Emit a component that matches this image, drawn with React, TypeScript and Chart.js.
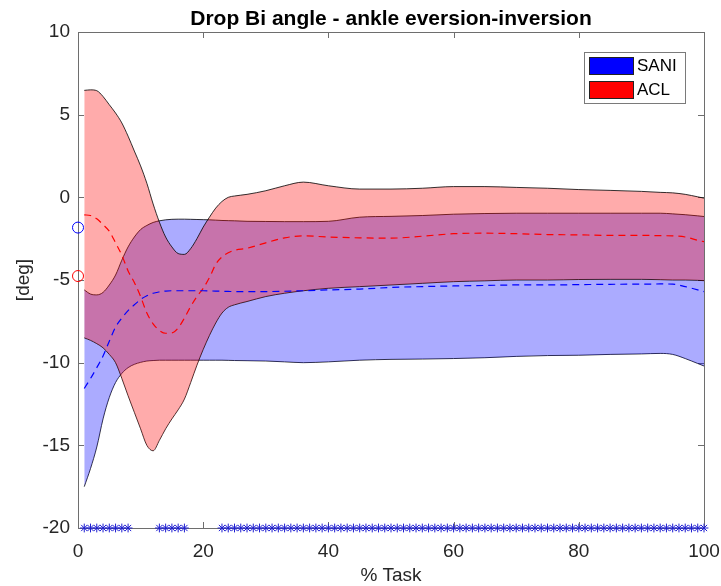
import React, { useEffect, useRef } from "react";
import { Chart, registerables } from "chart.js";

Chart.register(...registerables);

// ---- data ----
const TITLE = "Drop Bi angle - ankle eversion-inversion";
const X_LABEL = "% Task";
const Y_LABEL = "[deg]";
const LEGEND_LABELS = ["SANI", "ACL"];

const X_PTS = [1, 2, 3, 4, 5, 6, 7, 8, 9, 10, 11, 12, 13, 14, 15, 16, 17, 18, 19, 20, 21, 22, 23, 24, 25, 27, 30, 33, 36, 40, 45, 50, 55, 60, 65, 70, 75, 80, 85, 90, 93, 95, 97, 99, 100];

const ACL_HI = [6.47, 6.5, 6.45, 6.1, 5.6, 5.1, 4.5, 3.7, 2.8, 1.9, 0.85, -0.4, -1.5, -2.4, -3.0, -3.4, -3.45, -3.1, -2.5, -1.8, -1.2, -0.65, -0.25, 0.0, 0.08, 0.18, 0.4, 0.7, 0.92, 0.7, 0.5, 0.5, 0.55, 0.65, 0.65, 0.6, 0.55, 0.47, 0.42, 0.36, 0.3, 0.27, 0.18, 0.03, -0.05];
const ACL_LO = [-8.5, -8.65, -8.85, -9.1, -9.5, -10.0, -10.95, -12.0, -13.0, -14.0, -15.0, -15.33, -14.7, -14.0, -13.4, -12.85, -12.2, -11.2, -10.15, -9.2, -8.35, -7.6, -7.0, -6.65, -6.5, -6.3, -6.0, -5.8, -5.65, -5.5, -5.4, -5.3, -5.2, -5.1, -5.05, -5.0, -5.0, -4.97, -4.96, -4.96, -4.98, -5.0, -5.0, -5.02, -5.04];
const ACL_MEAN = [-1.06, -1.1, -1.3, -1.65, -2.05, -2.75, -3.5, -4.45, -5.15, -6.0, -7.0, -7.65, -8.05, -8.22, -8.2, -7.9, -7.3, -6.6, -6.0, -5.5, -4.85, -4.05, -3.6, -3.35, -3.2, -3.08, -2.75, -2.45, -2.33, -2.4, -2.45, -2.47, -2.35, -2.2, -2.17, -2.2, -2.25, -2.27, -2.3, -2.3, -2.32, -2.33, -2.4, -2.6, -2.68];

const SANI_HI = [-5.6, -5.85, -5.9, -5.75, -5.3, -4.7, -3.8, -3.0, -2.4, -1.95, -1.7, -1.52, -1.42, -1.36, -1.33, -1.32, -1.32, -1.33, -1.34, -1.35, -1.36, -1.38, -1.4, -1.41, -1.42, -1.45, -1.46, -1.47, -1.47, -1.45, -1.2, -1.15, -1.1, -1.02, -0.98, -0.96, -0.96, -0.96, -0.96, -0.96, -0.96, -1.0, -1.05, -1.12, -1.16];
const SANI_LO = [-17.5, -16.4, -15.1, -13.4, -12.1, -11.2, -10.65, -10.3, -10.1, -9.98, -9.9, -9.87, -9.85, -9.85, -9.85, -9.85, -9.85, -9.85, -9.85, -9.85, -9.85, -9.85, -9.85, -9.86, -9.87, -9.88, -9.9, -9.95, -10.0, -9.95, -9.85, -9.8, -9.78, -9.75, -9.7, -9.62, -9.57, -9.55, -9.5, -9.47, -9.44, -9.5, -9.75, -10.05, -10.2];
const SANI_MEAN = [-11.56, -10.96, -10.3, -9.6, -8.7, -7.85, -7.3, -6.85, -6.5, -6.18, -5.95, -5.8, -5.72, -5.67, -5.65, -5.65, -5.65, -5.65, -5.65, -5.65, -5.66, -5.67, -5.68, -5.69, -5.7, -5.7, -5.7, -5.68, -5.65, -5.6, -5.55, -5.45, -5.4, -5.36, -5.33, -5.3, -5.3, -5.28, -5.26, -5.25, -5.24, -5.25, -5.4, -5.6, -5.7];

const START_X = [0];
const SANI_START = [-1.83];
const ACL_START = [-4.76];

const SIG_Y = -20;
const SIG_X = [1, 2, 3, 4, 5, 6, 7, 8, 13, 14, 15, 16, 17, 23, 24, 25, 26, 27, 28, 29, 30, 31, 32, 33, 34, 35, 36, 37, 38, 39, 40, 41, 42, 43, 44, 45, 46, 47, 48, 49, 50, 51, 52, 53, 54, 55, 56, 57, 58, 59, 60, 61, 62, 63, 64, 65, 66, 67, 68, 69, 70, 71, 72, 73, 74, 75, 76, 77, 78, 79, 80, 81, 82, 83, 84, 85, 86, 87, 88, 89, 90, 91, 92, 93, 94, 95, 96, 97, 98, 99, 100];

const X_MIN = 0, X_MAX = 100, X_STEP = 20;
const Y_MIN = -20, Y_MAX = 10, Y_STEP = 5;

// ---- styling ----
const FONT = "'Liberation Sans', Arial, Helvetica, sans-serif";
const TXT = "#262626";
const RED_FILL = "rgba(255,0,0,0.33)";
const BLUE_FILL = "rgba(0,0,255,0.33)";

const pts = (ys: number[]) => X_PTS.map((x, i) => ({ x, y: ys[i] }));

const framePlugin = {
  id: "matlabFrame",
  beforeDatasetsDraw(chart: any) {
    const { ctx, chartArea: a, scales } = chart;
    ctx.save();
    ctx.strokeStyle = "#6e6e6e";
    ctx.lineWidth = 1;
    const L = 6;
    ctx.beginPath();
    scales.x.ticks.forEach((t: any) => {
      const px = Math.round(scales.x.getPixelForValue(t.value)) + 0.5;
      ctx.moveTo(px, a.top);
      ctx.lineTo(px, a.top + L);
      ctx.moveTo(px, a.bottom);
      ctx.lineTo(px, a.bottom - L);
    });
    scales.y.ticks.forEach((t: any) => {
      const py = Math.round(scales.y.getPixelForValue(t.value)) + 0.5;
      ctx.moveTo(a.left, py);
      ctx.lineTo(a.left + L, py);
      ctx.moveTo(a.right, py);
      ctx.lineTo(a.right - L, py);
    });
    ctx.stroke();
    ctx.strokeRect(Math.round(a.left) + 0.5, Math.round(a.top) + 0.5, Math.round(a.right - a.left), Math.round(a.bottom - a.top));
    ctx.restore();
  },
  afterDraw(chart: any) {
    const { ctx, chartArea: a } = chart;
    ctx.save();
    // title, centred over the plot area
    ctx.fillStyle = "#000";
    ctx.font = `bold 21px ${FONT}`;
    ctx.textAlign = "center";
    ctx.textBaseline = "alphabetic";
    ctx.fillText(TITLE, (a.left + a.right) / 2, 25);
    // legend
    const bx = 584.5, by = 52.5, bw = 101, bh = 51;
    ctx.fillStyle = "#ffffff";
    ctx.fillRect(bx, by, bw, bh);
    ctx.strokeStyle = "#7a7a7a";
    ctx.lineWidth = 1;
    ctx.strokeRect(bx, by, bw, bh);
    const colors = ["rgb(0,0,255)", "rgb(255,0,0)"];
    LEGEND_LABELS.forEach((lab, i) => {
      const y0 = 57.5 + i * 24;
      ctx.fillStyle = colors[i];
      ctx.fillRect(589.5, y0, 44, 17);
      ctx.strokeStyle = "#222";
      ctx.strokeRect(589.5, y0, 44, 17);
      ctx.fillStyle = "#000";
      ctx.font = `17px ${FONT}`;
      ctx.textAlign = "left";
      ctx.textBaseline = "middle";
      ctx.fillText(lab, 637, y0 + 8.5);
    });
    ctx.restore();
  },
};

export default function App() {
  const ref = useRef<HTMLCanvasElement | null>(null);
  useEffect(() => {
    if (!ref.current) return;
    const band = (ys: number[], fill: any, bg: string, order: number) => ({
      data: pts(ys),
      borderColor: "#000",
      borderWidth: 0.8,
      pointRadius: 0,
      fill,
      backgroundColor: bg,
      cubicInterpolationMode: "monotone",
      order,
    });
    const mean = (ys: number[], color: string) => ({
      data: pts(ys),
      borderColor: color,
      borderWidth: 1.2,
      borderDash: [7, 5],
      pointRadius: 0,
      fill: false,
      cubicInterpolationMode: "monotone",
      order: 0,
    });
    const chart = new Chart(ref.current, {
      type: "line",
      data: {
        datasets: [
          band(ACL_HI, "+1", RED_FILL, 1),
          band(ACL_LO, false, RED_FILL, 1),
          band(SANI_HI, "+1", BLUE_FILL, 2),
          band(SANI_LO, false, BLUE_FILL, 2),
          mean(SANI_MEAN, "rgb(0,0,255)"),
          mean(ACL_MEAN, "rgb(255,0,0)"),
          {
            data: START_X.map((x, i) => ({ x, y: SANI_START[i] })),
            showLine: false,
            pointStyle: "circle",
            pointRadius: 5.5,
            pointBorderColor: "rgb(0,0,255)",
            pointBackgroundColor: "rgba(0,0,0,0)",
            pointBorderWidth: 1,
            clip: false,
            order: 0,
          },
          {
            data: START_X.map((x, i) => ({ x, y: ACL_START[i] })),
            showLine: false,
            pointStyle: "circle",
            pointRadius: 5.5,
            pointBorderColor: "rgb(255,0,0)",
            pointBackgroundColor: "rgba(0,0,0,0)",
            pointBorderWidth: 1,
            clip: false,
            order: 0,
          },
          {
            data: SIG_X.map((x) => ({ x, y: SIG_Y })),
            showLine: false,
            pointStyle: "star",
            pointRadius: 4.4,
            pointBorderColor: "rgb(30,30,210)",
            pointBackgroundColor: "rgb(30,30,210)",
            pointBorderWidth: 1,
            clip: false,
            order: 0,
          },
        ] as any,
      },
      options: {
        responsive: false,
        animation: false,
        devicePixelRatio: 1,
        events: [],
        layout: { padding: { top: 32, right: 17, bottom: 0, left: 0 } },
        plugins: {
          legend: { display: false },
          tooltip: { enabled: false },
          title: { display: false },
        },
        scales: {
          x: {
            type: "linear",
            min: X_MIN,
            max: X_MAX,
            ticks: { stepSize: X_STEP, color: TXT, font: { family: FONT, size: 19 }, padding: 12 },
            grid: { display: false, drawTicks: false },
            border: { display: false },
            title: { display: true, text: X_LABEL, color: TXT, font: { family: FONT, size: 19 }, padding: { top: 0, bottom: -1 } },
            afterFit(s: any) { s.height = 58; s.paddingLeft = 0; s.paddingRight = 0; },
          },
          y: {
            type: "linear",
            min: Y_MIN,
            max: Y_MAX,
            ticks: { stepSize: Y_STEP, color: TXT, font: { family: FONT, size: 19 }, padding: 8 },
            grid: { display: false, drawTicks: false },
            border: { display: false },
            title: { display: true, text: Y_LABEL, color: TXT, font: { family: FONT, size: 19 }, padding: { top: 12, bottom: 0 } },
            afterFit(s: any) { s.width = 78; s.paddingTop = 0; s.paddingBottom = 0; },
          },
        },
      } as any,
      plugins: [framePlugin],
    });
    return () => chart.destroy();
  }, []);
  return (
    <div style={{ position: "absolute", left: 0, top: 0, width: 721, height: 586, background: "#fff" }}>
      <canvas ref={ref} width={721} height={586} style={{ width: 721, height: 586, display: "block" }} />
    </div>
  );
}
